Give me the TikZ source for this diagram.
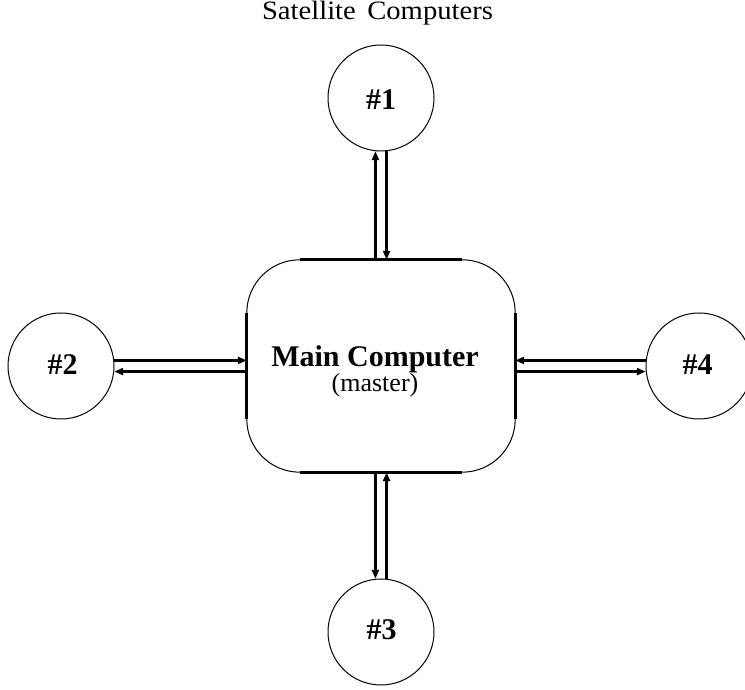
\documentclass[tikz,border=0pt]{standalone}
\usepackage{fontspec}
\setmainfont{Liberation Serif}
\usetikzlibrary{arrows.meta}
\begin{document}
\begin{tikzpicture}[x=1pt,y=1pt,
  sat/.style={circle,draw,line width=1pt,minimum size=106pt,inner sep=0pt},
  lbl/.style={anchor=base,inner sep=0pt,font=\fontsize{30}{34}\selectfont\bfseries},
  arr/.style={line width=2.6pt,-{Triangle[length=9pt,width=7pt]}},
  edge/.style={line width=3pt},
  corner/.style={line width=1pt}]
\useasboundingbox (0,0) rectangle (745,690);
\node[anchor=base,inner sep=0pt,font=\fontsize{26.5}{30}\selectfont] (title) at (377.5,670.5) {\scalebox{1.08}[1]{Satellite\hspace{4pt} Computers}};
\node[draw=none,minimum width=268pt,minimum height=212pt,inner sep=0pt] (box) at (381,324) {};
\node[sat] (c1) at (381,592) {};
\node[sat] (c2) at (61,324) {};
\node[sat] (c3) at (381,58) {};
\node[sat] (c4) at (699,324) {};
\node[lbl] (l1) at (381,580) {\#1};
\node[lbl] (l2) at (62.5,315) {\#2};
\node[lbl] (l3) at (381.7,50) {\#3};
\node[lbl] (l4) at (697.5,315) {\#4};
\node[lbl] (main) at (375,323.3) {Main Computer};
\node[anchor=base,inner sep=0pt,font=\fontsize{26}{30}\selectfont] (master) at (375,298.3) {(master)};
% box edges
\draw[edge] ([xshift=53pt]box.north west) -- ([xshift=-53pt]box.north east);
\draw[edge] ([xshift=53pt]box.south west) -- ([xshift=-53pt]box.south east);
\draw[edge] ([yshift=-53pt]box.north west) -- ([yshift=53pt]box.south west);
\draw[edge] ([yshift=-53pt]box.north east) -- ([yshift=53pt]box.south east);
\draw[corner] ([xshift=-53pt]box.north east) arc[start angle=90,end angle=0,radius=53pt];
\draw[corner] ([yshift=53pt]box.south east) arc[start angle=0,end angle=-90,radius=53pt];
\draw[corner] ([xshift=53pt]box.south west) arc[start angle=270,end angle=180,radius=53pt];
\draw[corner] ([yshift=-53pt]box.north west) arc[start angle=180,end angle=90,radius=53pt];
% connectors
\draw[arr] (box.north -| c1.264) -- (c1.264);
\draw[arr] (c1.276) -- (box.north -| c1.276);
\draw[arr] (c2.6) -- (c2.6 -| box.west);
\draw[arr] (c2.354 -| box.west) -- (c2.354);
\draw[arr] (c4.174) -- (c4.174 -| box.east);
\draw[arr] (c4.186 -| box.east) -- (c4.186);
\draw[arr] (box.south -| c3.96) -- (c3.96);
\draw[arr] (c3.84) -- (box.south -| c3.84);
\end{tikzpicture}
\end{document}
